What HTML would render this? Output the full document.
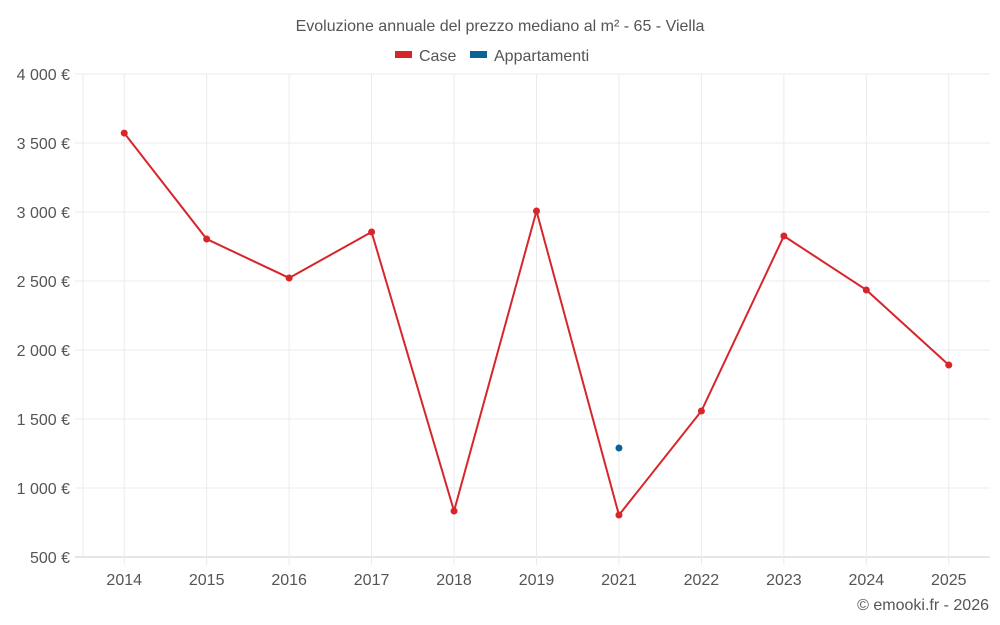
<!DOCTYPE html>
<html><head><meta charset="utf-8"><style>
html,body{margin:0;padding:0;background:#fff;width:1000px;height:625px;overflow:hidden}
svg text{font-family:"Liberation Sans",sans-serif}
</style></head><body>
<svg id="chart" width="1000" height="625" xmlns="http://www.w3.org/2000/svg">
<text x="500" y="31" text-anchor="middle" font-size="16" fill="#555">Evoluzione annuale del prezzo mediano al m² - 65 - Viella</text>
<g><rect x="395" y="51" width="17" height="7" fill="#d7262b"/><text x="419" y="61" font-size="16" fill="#555">Case</text></g>
<g><rect x="470" y="51" width="17" height="7" fill="#0a6299"/><text x="494" y="61" font-size="16" fill="#555">Appartamenti</text></g>
<g id="grid"></g><g id="axes"></g><g id="series"></g>
<text x="989" y="610" text-anchor="end" font-size="16" fill="#555">© emooki.fr - 2026</text>
</svg>
<script>
const categories=["2014","2015","2016","2017","2018","2019","2021","2022","2023","2024","2025"];
const caseValues=[3572,2804,2522,2855,833,3007,804,1558,2826,2435,1891];
const appartValues=[null,null,null,null,null,null,1290,null,null,null,null];
const yTicks=[500,1000,1500,2000,2500,3000,3500,4000];
const yTickLabels=["500 €","1 000 €","1 500 €","2 000 €","2 500 €","3 000 €","3 500 €","4 000 €"];
const NS="http://www.w3.org/2000/svg";
const L=83,R=990,T=74,B=557,yMin=500,yMax=4000;
const band=(R-L)/categories.length;
const x=i=>L+band*(i+0.5);
const y=v=>B-(v-yMin)/(yMax-yMin)*(B-T);
function mk(p,tag,a){const e=document.createElementNS(NS,tag);for(const k in a)e.setAttribute(k,a[k]);p.appendChild(e);return e;}
const grid=document.getElementById('grid'),axes=document.getElementById('axes'),ser=document.getElementById('series');
yTicks.forEach((t,i)=>{
 const l=mk(grid,'line',{x1:L-8,x2:R,y1:y(t),y2:y(t),stroke:i==0?'#ccc':'#ebebeb','stroke-width':1});
 
 
 const tx=mk(axes,'text',{x:70,y:y(t)+6,'text-anchor':'end','font-size':16,fill:'#555'});
 tx.textContent=yTickLabels[i];
 
 
});
const gl0=mk(grid,'line',{x1:L,x2:L,y1:T,y2:B,stroke:'#ebebeb'});


categories.forEach((c,i)=>{
 const gl=mk(grid,'line',{x1:x(i),x2:x(i),y1:T,y2:B+8,stroke:'#ebebeb'});
 
 
 const tx=mk(axes,'text',{x:x(i),y:585,'text-anchor':'middle','font-size':16,fill:'#555'});
 tx.textContent=c;
 
 
});
const pts=caseValues.map((v,i)=>x(i)+','+y(v)).join(' ');
const pl=mk(ser,'polyline',{points:pts,fill:'none',stroke:'#d7262b','stroke-width':2});


caseValues.forEach((v,i)=>{
 const c=mk(ser,'circle',{cx:x(i),cy:y(v),r:3.5,fill:'#d7262b'});
 
 
});
appartValues.forEach((v,i)=>{
 if(v==null)return;
 const c=mk(ser,'circle',{cx:x(i),cy:y(v),r:3.5,fill:'#0a6299'});
 
 
});
</script>
</body></html>
